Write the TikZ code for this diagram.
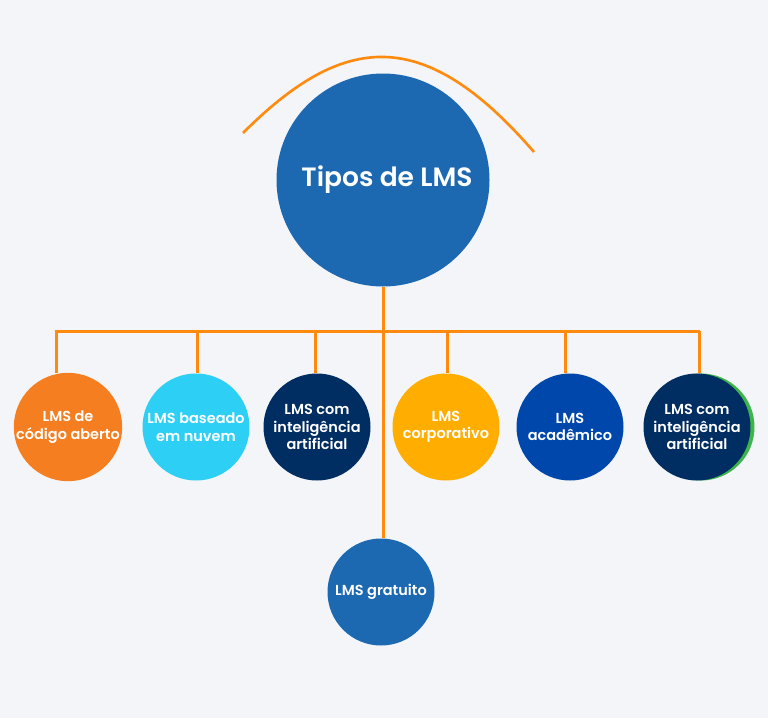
\documentclass[tikz,border=0pt]{standalone}
\usepackage{fontspec}
\setmainfont{Poppins}[BoldFont={Poppins SemiBold}]
\begin{document}
\begin{tikzpicture}[x=1pt,y=-1pt,
  line/.style={draw=lineorange, line width=3pt},
  sub/.style={circle, minimum size=107pt, inner sep=0pt, text=white, align=center,
    font=\fontsize{14.5}{17.5}\selectfont\bfseries},
]
\definecolor{bgc}{HTML}{F3F5F8}
\definecolor{mainblue}{HTML}{1C68B1}
\definecolor{lineorange}{HTML}{FF8A0D}
\definecolor{corange}{HTML}{F57E20}
\definecolor{ccyan}{HTML}{2ECFF5}
\definecolor{cnavy}{HTML}{002D62}
\definecolor{cyellow}{HTML}{FFAE00}
\definecolor{cblue}{HTML}{0047AB}
\definecolor{cgreen}{HTML}{3DB54A}
\fill[bgc] (0,0) rectangle (768,718);
\useasboundingbox (0,0) rectangle (768,718);

% top arc
\draw[draw=lineorange, line width=2.6pt] (243,133) .. controls (344,32) and (424,25) .. (534,152);

% main node
\node[circle, fill=mainblue, minimum size=213pt, inner sep=0pt, text=white,
  font=\fontsize{26.5}{30}\selectfont\bfseries] (main) at (383,180) {\hspace{8pt}Tipos de LMS};

% green crescent behind last circle
\fill[cgreen] (701,427) circle (53.5pt);

\node[sub, fill=corange] (c1) at (68,427) {LMS de\\código aberto};
\node[sub, fill=ccyan] (c2) at (196,427) {LMS baseado\\em nuvem};
\node[sub, fill=cnavy] (c3) at (317,427) {LMS com\\inteligência\\artificial};
\node[sub, fill=cyellow] (c4) at (446,427) {LMS\\corporativo};
\node[sub, fill=cblue] (c5) at (570,427) {LMS\\acadêmico};
\node[sub, fill=cnavy] (c6) at (697,427) {LMS com\\inteligência\\artificial};
\node[sub, fill=mainblue] (c7) at (381,592) {LMS gratuito};

\coordinate (bar) at (0,331);
\draw[line] ([xshift=-13.5pt]c1.north |- bar) -- ([xshift=3pt]c6.north |- bar);
\foreach \c/\dx in {c1/-12,c2/1,c3/-2,c4/1,c5/-5,c6/2} {
  \draw[line] ([xshift=\dx pt]\c.north |- bar) -- ([xshift=\dx pt]\c.north);
}
\draw[line] (main.south) -- (main.south |- c7.north);
\end{tikzpicture}
\end{document}
